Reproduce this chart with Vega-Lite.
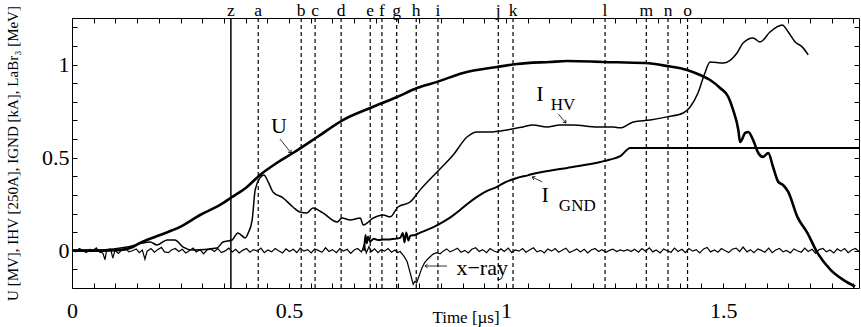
{
  "$schema": "https://vega.github.io/schema/vega-lite/v6.json",
  "width": 787,
  "height": 270,
  "autosize": {"type": "none"},
  "padding": {"left": 72, "top": 18, "right": 2, "bottom": 39},
  "background": "white",
  "datasets": {
    "events": [
      {"k": "z", "t": 0.366}, {"k": "a", "t": 0.429}, {"k": "b", "t": 0.528}, {"k": "c", "t": 0.560},
      {"k": "d", "t": 0.620}, {"k": "e", "t": 0.687}, {"k": "f", "t": 0.714}, {"k": "g", "t": 0.748},
      {"k": "h", "t": 0.793}, {"k": "i", "t": 0.843}, {"k": "j", "t": 0.982}, {"k": "k", "t": 1.016},
      {"k": "l", "t": 1.228}, {"k": "m", "t": 1.323}, {"k": "n", "t": 1.373}, {"k": "o", "t": 1.418}
    ],
    "U": [
      {"t": 0, "v": 0}, {"t": 0.065, "v": 0}, {"t": 0.111, "v": 0.004}, {"t": 0.134, "v": 0.015},
      {"t": 0.157, "v": 0.042}, {"t": 0.203, "v": 0.085}, {"t": 0.249, "v": 0.128}, {"t": 0.295, "v": 0.192},
      {"t": 0.341, "v": 0.246}, {"t": 0.369, "v": 0.289}, {"t": 0.403, "v": 0.343}, {"t": 0.433, "v": 0.407},
      {"t": 0.472, "v": 0.472}, {"t": 0.509, "v": 0.525}, {"t": 0.565, "v": 0.611}, {"t": 0.624, "v": 0.702},
      {"t": 0.687, "v": 0.767}, {"t": 0.749, "v": 0.826}, {"t": 0.795, "v": 0.874}, {"t": 0.841, "v": 0.907},
      {"t": 0.901, "v": 0.955}, {"t": 0.979, "v": 0.987}, {"t": 1.025, "v": 1.003}, {"t": 1.101, "v": 1.014},
      {"t": 1.141, "v": 1.019}, {"t": 1.224, "v": 1.014}, {"t": 1.320, "v": 1.008}, {"t": 1.371, "v": 0.992},
      {"t": 1.417, "v": 0.971}, {"t": 1.447, "v": 0.944}, {"t": 1.470, "v": 0.917}, {"t": 1.493, "v": 0.874},
      {"t": 1.512, "v": 0.826}, {"t": 1.523, "v": 0.756}, {"t": 1.535, "v": 0.649}, {"t": 1.539, "v": 0.584},
      {"t": 1.551, "v": 0.633}, {"t": 1.558, "v": 0.638}, {"t": 1.569, "v": 0.595}, {"t": 1.581, "v": 0.525},
      {"t": 1.592, "v": 0.504}, {"t": 1.604, "v": 0.525}, {"t": 1.615, "v": 0.450}, {"t": 1.627, "v": 0.370},
      {"t": 1.638, "v": 0.353}, {"t": 1.650, "v": 0.316}, {"t": 1.671, "v": 0.182}, {"t": 1.694, "v": 0.096},
      {"t": 1.717, "v": -0.010}, {"t": 1.747, "v": -0.101}, {"t": 1.776, "v": -0.155}, {"t": 1.804, "v": -0.192}
    ],
    "IHV": [
      {"t": 0, "v": 0.004}, {"t": 0.065, "v": 0.004}, {"t": 0.127, "v": 0.020}, {"t": 0.180, "v": 0.047},
      {"t": 0.196, "v": 0.031}, {"t": 0.219, "v": 0.058}, {"t": 0.237, "v": 0.058}, {"t": 0.256, "v": 0.020},
      {"t": 0.279, "v": 0.004}, {"t": 0.334, "v": 0.015}, {"t": 0.348, "v": 0.047}, {"t": 0.369, "v": 0.058},
      {"t": 0.382, "v": 0.096}, {"t": 0.399, "v": 0.069}, {"t": 0.406, "v": 0.096}, {"t": 0.415, "v": 0.165},
      {"t": 0.422, "v": 0.327}, {"t": 0.433, "v": 0.391}, {"t": 0.442, "v": 0.407}, {"t": 0.452, "v": 0.370},
      {"t": 0.463, "v": 0.316}, {"t": 0.486, "v": 0.284}, {"t": 0.509, "v": 0.235}, {"t": 0.525, "v": 0.208},
      {"t": 0.541, "v": 0.203}, {"t": 0.555, "v": 0.230}, {"t": 0.578, "v": 0.203}, {"t": 0.611, "v": 0.155},
      {"t": 0.622, "v": 0.176}, {"t": 0.641, "v": 0.165}, {"t": 0.664, "v": 0.176}, {"t": 0.671, "v": 0.139},
      {"t": 0.694, "v": 0.176}, {"t": 0.717, "v": 0.192}, {"t": 0.733, "v": 0.182}, {"t": 0.751, "v": 0.235},
      {"t": 0.779, "v": 0.262}, {"t": 0.802, "v": 0.327}, {"t": 0.841, "v": 0.423}, {"t": 0.878, "v": 0.514},
      {"t": 0.910, "v": 0.611}, {"t": 0.933, "v": 0.638}, {"t": 0.963, "v": 0.638}, {"t": 1.002, "v": 0.649},
      {"t": 1.039, "v": 0.665}, {"t": 1.062, "v": 0.676}, {"t": 1.094, "v": 0.665}, {"t": 1.124, "v": 0.676},
      {"t": 1.154, "v": 0.676}, {"t": 1.210, "v": 0.665}, {"t": 1.247, "v": 0.665}, {"t": 1.263, "v": 0.660},
      {"t": 1.293, "v": 0.692}, {"t": 1.332, "v": 0.702}, {"t": 1.371, "v": 0.719}, {"t": 1.408, "v": 0.740},
      {"t": 1.424, "v": 0.772}, {"t": 1.442, "v": 0.847}, {"t": 1.458, "v": 0.955}, {"t": 1.470, "v": 1.014},
      {"t": 1.500, "v": 1.008}, {"t": 1.532, "v": 1.062}, {"t": 1.546, "v": 1.116}, {"t": 1.569, "v": 1.143},
      {"t": 1.585, "v": 1.121}, {"t": 1.608, "v": 1.175}, {"t": 1.624, "v": 1.202}, {"t": 1.636, "v": 1.213},
      {"t": 1.650, "v": 1.175}, {"t": 1.666, "v": 1.121}, {"t": 1.682, "v": 1.095}, {"t": 1.696, "v": 1.052}
    ],
    "IGND": [
      {"t": 0.673, "v": 0.0}, {"t": 0.676, "v": 0.085}, {"t": 0.679, "v": 0.040}, {"t": 0.682, "v": 0.075},
      {"t": 0.687, "v": 0.050}, {"t": 0.695, "v": 0.065}, {"t": 0.705, "v": 0.058}, {"t": 0.717, "v": 0.060},
      {"t": 0.735, "v": 0.062}, {"t": 0.756, "v": 0.069}, {"t": 0.762, "v": 0.095}, {"t": 0.766, "v": 0.045},
      {"t": 0.770, "v": 0.098}, {"t": 0.775, "v": 0.055}, {"t": 0.779, "v": 0.080}, {"t": 0.790, "v": 0.085},
      {"t": 0.800, "v": 0.095}, {"t": 0.818, "v": 0.112}, {"t": 0.835, "v": 0.130}, {"t": 0.855, "v": 0.155},
      {"t": 0.875, "v": 0.185}, {"t": 0.894, "v": 0.219}, {"t": 0.910, "v": 0.250}, {"t": 0.933, "v": 0.289},
      {"t": 0.955, "v": 0.320}, {"t": 0.979, "v": 0.343}, {"t": 1.000, "v": 0.370}, {"t": 1.025, "v": 0.391},
      {"t": 1.050, "v": 0.405}, {"t": 1.071, "v": 0.418}, {"t": 1.100, "v": 0.430}, {"t": 1.141, "v": 0.445},
      {"t": 1.180, "v": 0.460}, {"t": 1.217, "v": 0.477}, {"t": 1.240, "v": 0.490}, {"t": 1.263, "v": 0.508},
      {"t": 1.286, "v": 0.552}, {"t": 1.813, "v": 0.552}
    ],
    "xray": [
      {"t": 0.000, "v": 0.004}, {"t": 0.008, "v": -0.006}, {"t": 0.017, "v": 0.012}, {"t": 0.024, "v": 0.002},
      {"t": 0.033, "v": -0.010}, {"t": 0.041, "v": 0.008}, {"t": 0.047, "v": -0.002}, {"t": 0.056, "v": 0.016},
      {"t": 0.064, "v": -0.008}, {"t": 0.071, "v": -0.012}, {"t": 0.076, "v": -0.048}, {"t": 0.080, "v": 0.006},
      {"t": 0.089, "v": 0.010}, {"t": 0.094, "v": -0.040}, {"t": 0.099, "v": 0.002}, {"t": 0.107, "v": -0.014},
      {"t": 0.116, "v": 0.008}, {"t": 0.123, "v": 0.014}, {"t": 0.131, "v": -0.006}, {"t": 0.139, "v": 0.000},
      {"t": 0.148, "v": 0.010}, {"t": 0.155, "v": -0.010}, {"t": 0.162, "v": 0.004}, {"t": 0.168, "v": -0.045},
      {"t": 0.173, "v": -0.002}, {"t": 0.182, "v": 0.012}, {"t": 0.190, "v": -0.008}, {"t": 0.197, "v": 0.006},
      {"t": 0.206, "v": 0.018}, {"t": 0.213, "v": -0.006}, {"t": 0.222, "v": -0.010}, {"t": 0.229, "v": 0.004},
      {"t": 0.238, "v": 0.012}, {"t": 0.246, "v": -0.004}, {"t": 0.254, "v": 0.008}, {"t": 0.262, "v": -0.012},
      {"t": 0.271, "v": 0.002}, {"t": 0.279, "v": 0.014}, {"t": 0.286, "v": -0.006}, {"t": 0.295, "v": 0.006},
      {"t": 0.303, "v": -0.016}, {"t": 0.311, "v": 0.004}, {"t": 0.320, "v": 0.010}, {"t": 0.328, "v": -0.004},
      {"t": 0.336, "v": 0.012}, {"t": 0.344, "v": -0.010}, {"t": 0.352, "v": -0.002}, {"t": 0.361, "v": 0.014},
      {"t": 0.369, "v": -0.006}, {"t": 0.377, "v": 0.008}, {"t": 0.385, "v": -0.012}, {"t": 0.393, "v": 0.002},
      {"t": 0.402, "v": 0.012}, {"t": 0.410, "v": -0.008}, {"t": 0.418, "v": 0.006}, {"t": 0.427, "v": -0.002},
      {"t": 0.435, "v": 0.014}, {"t": 0.443, "v": -0.010}, {"t": 0.451, "v": 0.004}, {"t": 0.460, "v": -0.006},
      {"t": 0.468, "v": 0.012}, {"t": 0.476, "v": 0.000}, {"t": 0.485, "v": -0.012}, {"t": 0.493, "v": 0.010},
      {"t": 0.501, "v": -0.004}, {"t": 0.510, "v": 0.008}, {"t": 0.518, "v": -0.010}, {"t": 0.526, "v": 0.014},
      {"t": 0.534, "v": -0.002}, {"t": 0.543, "v": 0.006}, {"t": 0.551, "v": -0.012}, {"t": 0.559, "v": 0.010},
      {"t": 0.567, "v": 0.002}, {"t": 0.576, "v": -0.008}, {"t": 0.584, "v": 0.016}, {"t": 0.592, "v": -0.004},
      {"t": 0.600, "v": 0.006}, {"t": 0.609, "v": -0.010}, {"t": 0.617, "v": 0.012}, {"t": 0.625, "v": -0.002},
      {"t": 0.634, "v": 0.008}, {"t": 0.642, "v": -0.014}, {"t": 0.650, "v": 0.004}, {"t": 0.658, "v": 0.012},
      {"t": 0.667, "v": -0.006}, {"t": 0.673, "v": 0.032}, {"t": 0.678, "v": -0.012}, {"t": 0.684, "v": 0.022},
      {"t": 0.690, "v": -0.004}, {"t": 0.697, "v": 0.010}, {"t": 0.705, "v": -0.010}, {"t": 0.712, "v": 0.006},
      {"t": 0.720, "v": -0.002}, {"t": 0.728, "v": 0.012}, {"t": 0.736, "v": -0.008}, {"t": 0.744, "v": 0.004},
      {"t": 0.750, "v": -0.010}, {"t": 0.756, "v": -0.004}, {"t": 0.765, "v": -0.030}, {"t": 0.772, "v": -0.058},
      {"t": 0.779, "v": -0.118}, {"t": 0.786, "v": -0.180}, {"t": 0.790, "v": -0.165}, {"t": 0.794, "v": -0.172},
      {"t": 0.799, "v": -0.140}, {"t": 0.806, "v": -0.092}, {"t": 0.812, "v": -0.065}, {"t": 0.818, "v": -0.048},
      {"t": 0.825, "v": -0.032}, {"t": 0.832, "v": -0.018}, {"t": 0.840, "v": -0.010}, {"t": 0.848, "v": -0.016},
      {"t": 0.855, "v": -0.002}, {"t": 0.863, "v": 0.010}, {"t": 0.871, "v": -0.006}, {"t": 0.880, "v": 0.004},
      {"t": 0.888, "v": 0.014}, {"t": 0.896, "v": -0.008}, {"t": 0.905, "v": 0.002}, {"t": 0.913, "v": -0.012},
      {"t": 0.921, "v": 0.008}, {"t": 0.930, "v": 0.016}, {"t": 0.938, "v": -0.004}, {"t": 0.946, "v": 0.006},
      {"t": 0.955, "v": -0.010}, {"t": 0.963, "v": 0.012}, {"t": 0.971, "v": 0.000}, {"t": 0.980, "v": -0.008},
      {"t": 0.988, "v": 0.010}, {"t": 0.996, "v": -0.004}, {"t": 1.005, "v": 0.014}, {"t": 1.013, "v": -0.010},
      {"t": 1.021, "v": 0.004}, {"t": 1.030, "v": -0.002}, {"t": 1.038, "v": 0.012}, {"t": 1.046, "v": -0.008},
      {"t": 1.055, "v": 0.006}, {"t": 1.063, "v": 0.016}, {"t": 1.071, "v": -0.006}, {"t": 1.080, "v": 0.002},
      {"t": 1.088, "v": -0.012}, {"t": 1.096, "v": 0.010}, {"t": 1.105, "v": -0.002}, {"t": 1.113, "v": 0.012},
      {"t": 1.121, "v": -0.008}, {"t": 1.130, "v": 0.004}, {"t": 1.138, "v": 0.014}, {"t": 1.146, "v": -0.010},
      {"t": 1.155, "v": 0.000}, {"t": 1.163, "v": 0.010}, {"t": 1.171, "v": -0.006}, {"t": 1.180, "v": 0.008},
      {"t": 1.188, "v": -0.012}, {"t": 1.196, "v": 0.004}, {"t": 1.205, "v": 0.012}, {"t": 1.213, "v": -0.004},
      {"t": 1.221, "v": 0.006}, {"t": 1.230, "v": -0.008}, {"t": 1.238, "v": 0.002}, {"t": 1.246, "v": 0.008},
      {"t": 1.255, "v": -0.004}, {"t": 1.263, "v": 0.004}, {"t": 1.271, "v": -0.002}, {"t": 1.280, "v": 0.006},
      {"t": 1.288, "v": -0.004}, {"t": 1.296, "v": 0.008}, {"t": 1.305, "v": -0.008}, {"t": 1.313, "v": 0.012},
      {"t": 1.321, "v": -0.002}, {"t": 1.330, "v": 0.016}, {"t": 1.338, "v": -0.006}, {"t": 1.346, "v": 0.004},
      {"t": 1.355, "v": -0.012}, {"t": 1.363, "v": 0.010}, {"t": 1.371, "v": 0.000}, {"t": 1.380, "v": -0.008},
      {"t": 1.388, "v": 0.014}, {"t": 1.396, "v": -0.004}, {"t": 1.405, "v": 0.008}, {"t": 1.413, "v": -0.010},
      {"t": 1.421, "v": 0.012}, {"t": 1.430, "v": -0.002}, {"t": 1.438, "v": 0.006}, {"t": 1.446, "v": -0.012},
      {"t": 1.455, "v": 0.010}, {"t": 1.463, "v": 0.018}, {"t": 1.471, "v": -0.006}, {"t": 1.480, "v": 0.004},
      {"t": 1.488, "v": -0.008}, {"t": 1.496, "v": 0.012}, {"t": 1.505, "v": 0.000}, {"t": 1.513, "v": -0.010},
      {"t": 1.521, "v": 0.008}, {"t": 1.530, "v": 0.014}, {"t": 1.538, "v": -0.004}, {"t": 1.546, "v": 0.020},
      {"t": 1.555, "v": -0.006}, {"t": 1.563, "v": 0.006}, {"t": 1.571, "v": -0.010}, {"t": 1.580, "v": 0.010},
      {"t": 1.588, "v": 0.002}, {"t": 1.596, "v": -0.008}, {"t": 1.605, "v": 0.014}, {"t": 1.613, "v": -0.010},
      {"t": 1.621, "v": 0.004}, {"t": 1.630, "v": 0.012}, {"t": 1.638, "v": -0.006}, {"t": 1.646, "v": 0.002},
      {"t": 1.655, "v": -0.012}, {"t": 1.663, "v": 0.010}, {"t": 1.671, "v": 0.000}, {"t": 1.680, "v": -0.008},
      {"t": 1.688, "v": 0.014}, {"t": 1.696, "v": -0.004}, {"t": 1.705, "v": 0.008}, {"t": 1.713, "v": -0.014},
      {"t": 1.721, "v": 0.006}, {"t": 1.730, "v": 0.012}, {"t": 1.738, "v": -0.006}, {"t": 1.746, "v": 0.004},
      {"t": 1.755, "v": -0.012}, {"t": 1.763, "v": 0.010}, {"t": 1.771, "v": -0.002}, {"t": 1.780, "v": 0.012},
      {"t": 1.788, "v": -0.010}, {"t": 1.796, "v": 0.004}, {"t": 1.805, "v": 0.012}, {"t": 1.813, "v": -0.004}
    ],
    "ann": [
      {"t": 0.477, "v": 0.670, "txt": "U"},
      {"t": 1.078, "v": 0.842, "txt": "I"},
      {"t": 1.090, "v": 0.300, "txt": "I"},
      {"t": 0.945, "v": -0.092, "txt": "x−ray"}
    ],
    "sub": [
      {"t": 1.131, "v": 0.783, "txt": "HV"},
      {"t": 1.164, "v": 0.241, "txt": "GND"}
    ],
    "arrows": [
      {"t": 0.479, "v": 0.600, "t2": 0.505, "v2": 0.525},
      {"t": 1.120, "v": 0.735, "t2": 1.138, "v2": 0.686},
      {"t": 1.083, "v": 0.370, "t2": 1.060, "v2": 0.396},
      {"t": 0.864, "v": -0.082, "t2": 0.813, "v2": -0.082}
    ]
  },
  "layer": [
    {
      "data": {"name": "events"},
      "transform": [{"filter": "datum.k != 'z'"}],
      "mark": {"type": "rule", "strokeDash": [4, 3], "strokeWidth": 1.2, "color": "black"},
      "encoding": {
        "x": {"field": "t", "type": "quantitative", "scale": {"domain": [0, 1.813], "nice": false, "zero": false}, "axis": null}
      }
    },
    {
      "data": {"name": "events"},
      "transform": [{"filter": "datum.k == 'z'"}],
      "mark": {"type": "rule", "strokeWidth": 1.5, "color": "black"},
      "encoding": {
        "x": {"field": "t", "type": "quantitative", "scale": {"domain": [0, 1.813], "nice": false, "zero": false}, "axis": null}
      }
    },
    {
      "data": {"name": "events"},
      "mark": {"type": "text", "baseline": "alphabetic", "align": "center", "dy": -2, "fontSize": 17.5, "font": "Liberation Serif", "color": "black"},
      "encoding": {
        "x": {"field": "t", "type": "quantitative", "scale": {"domain": [0, 1.813], "nice": false, "zero": false}, "axis": null},
        "y": {"datum": 1.25, "type": "quantitative", "scale": {"domain": [-0.2, 1.25], "nice": false, "zero": false}, "axis": null},
        "text": {"field": "k"}
      }
    },
    {
      "data": {"name": "xray"},
      "mark": {"type": "line", "color": "black", "strokeWidth": 1.2},
      "encoding": {
        "x": {"field": "t", "type": "quantitative", "scale": {"domain": [0, 1.813], "nice": false, "zero": false}, "axis": null},
        "y": {"field": "v", "type": "quantitative", "scale": {"domain": [-0.2, 1.25], "nice": false, "zero": false}, "axis": null}
      }
    },
    {
      "data": {"name": "IGND"},
      "mark": {"type": "line", "color": "black", "strokeWidth": 2, "interpolate": "monotone"},
      "encoding": {
        "x": {"field": "t", "type": "quantitative", "scale": {"domain": [0, 1.813], "nice": false, "zero": false}, "axis": null},
        "y": {"field": "v", "type": "quantitative", "scale": {"domain": [-0.2, 1.25], "nice": false, "zero": false}, "axis": null}
      }
    },
    {
      "data": {"name": "IHV"},
      "mark": {"type": "line", "color": "black", "strokeWidth": 1.5, "interpolate": "monotone"},
      "encoding": {
        "x": {"field": "t", "type": "quantitative", "scale": {"domain": [0, 1.813], "nice": false, "zero": false},
          "axis": {"orient": "top", "labels": false, "title": null, "values": [0,0.05,0.1,0.15,0.2,0.25,0.3,0.35,0.4,0.45,0.5,0.55,0.6,0.65,0.7,0.75,0.8,0.85,0.9,0.95,1,1.05,1.1,1.15,1.2,1.25,1.3,1.35,1.4,1.45,1.5,1.55,1.6,1.65,1.7,1.75,1.8]}},
        "y": {"field": "v", "type": "quantitative", "scale": {"domain": [-0.2, 1.25], "nice": false, "zero": false},
          "axis": {"orient": "right", "labels": false, "title": null, "values": [-0.1,0,0.1,0.2,0.3,0.4,0.5,0.6,0.7,0.8,0.9,1,1.1,1.2]}}
      }
    },
    {
      "data": {"name": "U"},
      "mark": {"type": "line", "color": "black", "strokeWidth": 2.6, "interpolate": "monotone"},
      "encoding": {
        "x": {"field": "t", "type": "quantitative", "scale": {"domain": [0, 1.813], "nice": false, "zero": false},
          "axis": {"orient": "bottom", "title": "Time [µs]", "titleY": 34, "titleBaseline": "alphabetic", "titleFontSize": 17,
            "labelBaseline": "alphabetic", "labelPadding": 34,
            "labelExpr": "abs(datum.value*2 - round(datum.value*2)) < 0.001 ? format(datum.value, '~g') : ''",
            "values": [0,0.05,0.1,0.15,0.2,0.25,0.3,0.35,0.4,0.45,0.5,0.55,0.6,0.65,0.7,0.75,0.8,0.85,0.9,0.95,1,1.05,1.1,1.15,1.2,1.25,1.3,1.35,1.4,1.45,1.5,1.55,1.6,1.65,1.7,1.75,1.8]}},
        "y": {"field": "v", "type": "quantitative", "scale": {"domain": [-0.2, 1.25], "nice": false, "zero": false},
          "axis": {"orient": "left", "title": "U [MV], IHV [250A], IGND [kA], LaBr₃ [MeV]", "titleX": -60, "titleBaseline": "middle", "titleFontSize": 15,
            "labelPadding": 8,
            "labelExpr": "abs(datum.value*2 - round(datum.value*2)) < 0.001 ? format(datum.value, '~g') : ''",
            "values": [-0.1,0,0.1,0.2,0.3,0.4,0.5,0.6,0.7,0.8,0.9,1,1.1,1.2]}}
      }
    },
    {
      "data": {"name": "arrows"},
      "mark": {"type": "rule", "color": "black", "strokeWidth": 0.8},
      "encoding": {
        "x": {"field": "t", "type": "quantitative", "scale": {"domain": [0, 1.813], "nice": false, "zero": false}, "axis": null},
        "y": {"field": "v", "type": "quantitative", "scale": {"domain": [-0.2, 1.25], "nice": false, "zero": false}, "axis": null},
        "x2": {"field": "t2"},
        "y2": {"field": "v2"}
      }
    },
    {
      "data": {"name": "arrows"},
      "transform": [{"calculate": "atan2(-(datum.v2 - datum.v) * 186.2, (datum.t2 - datum.t) * 434) * 180 / PI", "as": "ang"}],
      "mark": {"type": "point", "shape": "M-1,-0.7L0,0L-1,0.7", "filled": false, "stroke": "black", "strokeWidth": 0.8, "size": 30, "opacity": 1},
      "encoding": {
        "x": {"field": "t2", "type": "quantitative", "scale": {"domain": [0, 1.813], "nice": false, "zero": false}, "axis": null},
        "y": {"field": "v2", "type": "quantitative", "scale": {"domain": [-0.2, 1.25], "nice": false, "zero": false}, "axis": null},
        "angle": {"field": "ang", "type": "quantitative", "scale": null}
      }
    },
    {
      "data": {"name": "ann"},
      "mark": {"type": "text", "fontSize": 22, "font": "Liberation Serif", "baseline": "middle", "align": "center", "color": "black"},
      "encoding": {
        "x": {"field": "t", "type": "quantitative", "scale": {"domain": [0, 1.813], "nice": false, "zero": false}, "axis": null},
        "y": {"field": "v", "type": "quantitative", "scale": {"domain": [-0.2, 1.25], "nice": false, "zero": false}, "axis": null},
        "text": {"field": "txt"}
      }
    },
    {
      "data": {"name": "sub"},
      "mark": {"type": "text", "fontSize": 17, "font": "Liberation Serif", "baseline": "middle", "align": "center", "color": "black"},
      "encoding": {
        "x": {"field": "t", "type": "quantitative", "scale": {"domain": [0, 1.813], "nice": false, "zero": false}, "axis": null},
        "y": {"field": "v", "type": "quantitative", "scale": {"domain": [-0.2, 1.25], "nice": false, "zero": false}, "axis": null},
        "text": {"field": "txt"}
      }
    }
  ],
  "resolve": {"axis": {"x": "independent", "y": "independent"}},
  "config": {
    "font": "Liberation Serif",
    "view": {"stroke": null},
    "axis": {
      "grid": false, "domainColor": "black", "domainWidth": 1, "tickColor": "black", "tickWidth": 1, "tickSize": -5,
      "labelColor": "black", "titleColor": "black", "labelFont": "Liberation Serif", "titleFont": "Liberation Serif",
      "labelFontSize": 22, "titleFontWeight": "normal", "labelOverlap": false, "labelFlush": false, "labelBound": false
    }
  }
}
